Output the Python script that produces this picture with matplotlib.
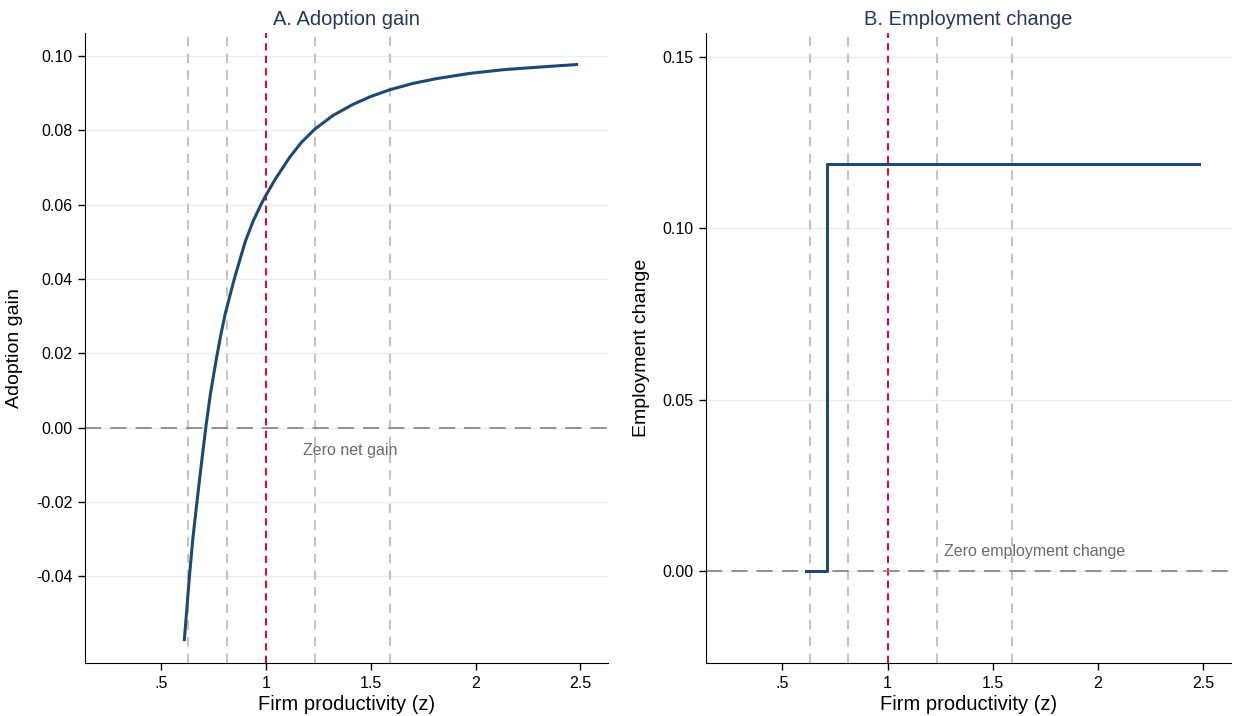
import matplotlib
matplotlib.use("Agg")
import matplotlib.pyplot as plt

plt.rcParams['font.family'] = ['Liberation Sans', 'DejaVu Sans']

# adoption gain by firm productivity
z_gain = [0.611, 0.635, 0.652, 0.671, 0.692, 0.713, 0.735, 0.765, 0.785, 0.806,
          0.849, 0.901, 0.940, 0.978, 1.000, 1.044, 1.114, 1.170, 1.233, 1.320,
          1.416, 1.500, 1.590, 1.700, 1.813, 1.970, 2.130, 2.300, 2.482]
gain = [-0.0570, -0.0400, -0.0295, -0.0200, -0.0098, 0.0000, 0.0090, 0.0190, 0.0250, 0.0307,
        0.0400, 0.0500, 0.0557, 0.0602, 0.0625, 0.0668, 0.0728, 0.0768, 0.0803, 0.0840,
        0.0870, 0.0891, 0.0909, 0.0926, 0.0939, 0.0953, 0.0963, 0.0970, 0.0977]

# employment change: zero until adoption threshold, then a constant jump
z_emp = [0.610, 0.712, 0.712, 2.482]
emp = [0.0, 0.0, 0.1187, 0.1187]

# productivity quantiles and the median
quantiles = [0.629, 0.814, 1.233, 1.590]
median_z = 1.0

xticks = [0.5, 1, 1.5, 2, 2.5]
xticklabels = ['.5', '1', '1.5', '2', '2.5']
yticks_a = [-0.04, -0.02, 0.00, 0.02, 0.04, 0.06, 0.08, 0.10]
yticks_b = [0.00, 0.05, 0.10, 0.15]

line_col = '#1c4a73'
title_col = '#25385a'
grid_col = '#e8eef0'

fig = plt.figure(figsize=(12.34, 7.16), dpi=100)
ax1 = fig.add_axes([0.0689, 0.074, 0.4238, 0.880])
ax2 = fig.add_axes([0.5721, 0.074, 0.4255, 0.880])


def style(ax, yticks, fmt):
    for y in yticks:
        ax.axhline(y, color=grid_col, lw=1.0, zorder=0)
    for q in quantiles:
        ax.axvline(q, color='#c4c4c4', lw=1.5, ls=(0, (4.5, 3.5)), zorder=1)
    ax.axvline(median_z, color='#d2103f', lw=1.5, ls=(0, (3.5, 2.5)), zorder=2)
    ax.axhline(0, color='#8a8a8a', lw=1.3, ls=(0, (9, 5)), zorder=2)
    ax.spines['top'].set_visible(False)
    ax.spines['right'].set_visible(False)
    ax.set_xlim(0.137, 2.632)
    ax.set_xticks(xticks)
    ax.set_xticklabels(xticklabels)
    ax.set_yticks(yticks)
    ax.set_yticklabels([fmt % v for v in yticks])
    ax.tick_params(axis='both', direction='out', length=5, width=1, labelsize=11.5, pad=4)
    ax.set_xlabel('Firm productivity (z)', fontsize=14.5, labelpad=3)


style(ax1, yticks_a, '%.2f')
ax1.plot(z_gain, gain, color=line_col, lw=2.2, zorder=3)
ax1.set_ylim(-0.0633, 0.1062)
ax1.set_ylabel('Adoption gain', fontsize=14, labelpad=9)
ax1.set_title('A. Adoption gain', fontsize=14.5, color=title_col, pad=6)
ax1.text(1.176, -0.0062, 'Zero net gain', fontsize=11.5, color='#6a6a6a', va='center', ha='left')

style(ax2, yticks_b, '%.2f')
ax2.plot(z_emp, emp, color=line_col, lw=2.2, zorder=3)
ax2.set_ylim(-0.0267, 0.1569)
ax2.set_ylabel('Employment change', fontsize=14, labelpad=9)
ax2.set_title('B. Employment change', fontsize=14.5, color=title_col, pad=6)
ax2.text(1.27, 0.0058, 'Zero employment change', fontsize=11.5, color='#6a6a6a', va='center', ha='left')

fig.savefig('out.png', dpi=100)
plt.close(fig)
